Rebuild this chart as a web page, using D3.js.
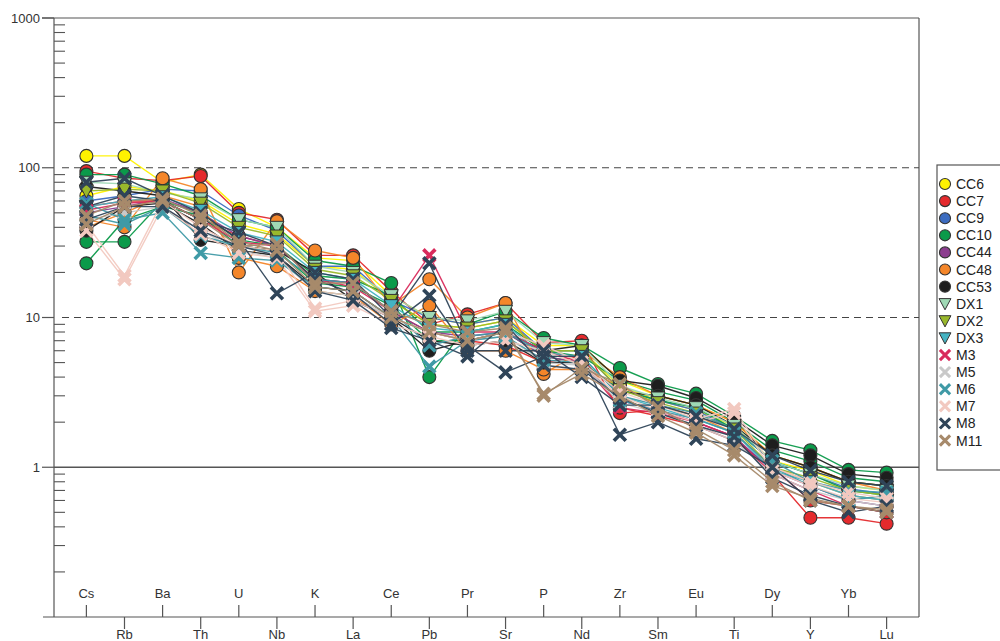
<!DOCTYPE html>
<html>
<head>
<meta charset="utf-8">
<script src="https://cdn.jsdelivr.net/npm/d3@7"></script>
<style>
  body { margin: 0; background: #fff; }
  svg { display: block; font-family: "Liberation Sans", Arial, sans-serif; }
</style>
</head>
<body>
<div></div>
<script>
'use strict';

// Elements along the x axis
var elements = ["Cs","Rb","Ba","Th","U","Nb","K","La","Ce","Pb","Pr","Sr","P","Nd","Zr","Sm","Eu","Ti","Dy","Y","Yb","Lu"];
var yTicks = [1000, 100, 10, 1];

// Legend groups
var groups = ["CC6","CC7","CC9","CC10","CC44","CC48","CC53","DX1","DX2","DX3","M3","M5","M6","M7","M8","M11"];
var groupColors = ["#fff200","#e42a2d","#3c6cc0","#0b9a4a","#8c3d8f","#f4862a","#1e1e1e","#9fd9b5","#99b82c","#44b3c2","#d92b5c","#c9c9c9","#3f9aa6","#f2c9c0","#2f4458","#a78a6b"];
var groupShapes = ["circle","circle","circle","circle","circle","circle","circle","tri","tri","tri","x","x","x","x","x","x"];

// Samples (normalised values)
var cc6a  = [120,120,80,90,53,40,25,24,14,10,9,10,6.5,6.5,3.8,3.0,2.6,2.0,1.2,1.0,0.8,0.75];
var cc6b  = [65,75,70,60,42,36,22,21,13,9,8.5,9.5,6,6,3.5,2.8,2.4,1.9,1.1,0.95,0.75,0.7];
var cc7a  = [95,85,82,88,50,45,26,26,15,9,10.5,12.5,6.8,7.0,2.3,2.4,2.0,1.6,0.9,0.46,0.46,0.42];
var cc7b  = [55,60,60,45,35,30,18,17,11,8,7,6.5,5,5.5,2.5,2.2,1.9,1.5,1.0,0.6,0.55,0.5];
var cc9a  = [60,65,72,70,48,38,22,22,13,10,9,10,6,6,3.3,2.8,2.4,1.8,1.1,0.9,0.72,0.66];
var cc10a = [90,90,78,65,45,40,24,22,17,4.0,9,11,7.3,6.5,4.6,3.6,3.1,2.2,1.5,1.3,0.96,0.92];
var cc10b = [32,32,60,50,33,30,19,18,14,8,8,9,6,5.5,3.8,3.2,2.8,2.0,1.3,1.1,0.85,0.8];
var cc10c = [23,45,55,48,30,28,17,16,12,7,7,8,5.5,5,3.3,2.8,2.5,1.8,1.1,0.9,0.7,0.65];
var cc44a = [50,55,62,50,35,30,18,17,11,8,7.5,8,5.5,5,2.8,2.4,2.0,1.6,0.95,0.75,0.6,0.55];
var cc48a = [45,40,85,72,20,44,28,25,12,18,10,12.5,4.2,6.0,4.0,3.0,2.6,2.0,1.2,1.0,0.8,0.7];
var cc48b = [40,50,65,55,25,22,15,14,9,12,6,6,4.5,4.5,3.5,2.6,2.2,1.7,1.0,0.8,0.65,0.6];
var cc53a = [75,70,65,33,30,28,20,13,10,6,7,8,6,6.5,3.8,3.5,2.9,2.1,1.4,1.2,0.9,0.85];
var cc53b = [38,55,58,42,28,26,16,15,10,7,6.5,7,5,5,3.2,3.0,2.6,1.9,1.2,1.0,0.8,0.75];
var dx1a  = [80,78,68,62,45,40,22,20,14,10,9.5,11,6.8,6.5,3.5,2.9,2.5,1.9,1.1,0.9,0.75,0.7];
var dx2a  = [70,72,70,58,40,35,21,19,13,9,8.5,9.5,6,6,3.3,2.7,2.3,1.8,1.0,0.85,0.7,0.65];
var dx3a  = [55,60,64,52,37,32,20,18,12,8.5,8,9,5.5,5.5,3.0,2.5,2.1,1.7,0.95,0.8,0.65,0.6];
var m3a   = [52,58,60,45,32,30,18,16,11,26,8,8,6,5,2.5,2.3,2.0,1.6,0.9,0.7,0.55,0.5];
var m5a   = [45,50,55,38,28,25,15,14,10,8,7,7.5,5,4.8,2.7,2.3,1.9,1.5,0.9,0.7,0.6,0.55];
var m6a   = [58,45,50,27,25,24,16,15,10,4.7,7,7.5,5.2,5,2.8,2.4,2.1,1.7,1.0,0.75,0.6,0.65];
var m6b   = [48,42,55,35,30,27,18,17,11,6.5,7.5,8,5.8,5.5,3.0,2.6,2.3,1.8,1.1,0.8,0.7,0.68];
var m7a   = [42,19,60,40,30,28,11.5,13,10,8,7,8,6.5,5,3.2,2.6,2.1,2.45,1.0,0.8,0.68,0.62];
var m7b   = [38,18,55,36,27,25,11,12,9,7.5,6.5,7,6,4.8,3.0,2.4,2.0,2.3,0.95,0.75,0.62,0.58];
var m8a   = [80,85,65,50,33,14.5,20,18,10,23,6.5,4.3,5.5,5.5,1.65,2.0,1.55,1.4,1.0,0.6,0.5,0.55];
var m8b   = [55,65,60,45,37,30,18,14.5,9,14,6,6,6,4,2.6,2.6,2.2,1.8,1.2,0.95,0.8,0.75];
var m8c   = [45,55,55,38,30,26,15,13,8.5,7,5.5,9,4.8,4.5,2.9,2.3,1.9,1.6,0.85,0.65,0.55,0.5];
var m11a  = [42,55,60,45,30,31,17,17,11,9,8,8.5,3.0,4.6,3.6,2.5,1.8,1.3,0.8,0.6,0.55,0.5];
var m11b  = [48,60,62,48,32,28,16,15,10,8,7,8,3.1,4.2,3.0,2.2,1.7,1.2,0.75,0.62,0.55,0.52];

var samples = [
  ["CC6", cc6a], ["CC6", cc6b],
  ["CC7", cc7a], ["CC7", cc7b],
  ["CC9", cc9a],
  ["CC10", cc10a], ["CC10", cc10b], ["CC10", cc10c],
  ["CC44", cc44a],
  ["CC48", cc48a], ["CC48", cc48b],
  ["CC53", cc53a], ["CC53", cc53b],
  ["DX1", dx1a], ["DX2", dx2a], ["DX3", dx3a],
  ["M3", m3a], ["M5", m5a],
  ["M6", m6a], ["M6", m6b],
  ["M7", m7a], ["M7", m7b],
  ["M8", m8a], ["M8", m8b], ["M8", m8c],
  ["M11", m11a], ["M11", m11b]
];

var svgWidth = 1000;
var svgHeight = 641;
var plot = {left: 54, right: 919, top: 18, bottom: 617};

var xScale = d3.scalePoint()
    .domain(elements)
    .range([plot.left, plot.right])
    .padding(0.85);

var yScale = d3.scaleLog()
    .domain([0.1, 1000])
    .range([plot.bottom, plot.top]);

var color = d3.scaleOrdinal().domain(groups).range(groupColors);
var shape = d3.scaleOrdinal().domain(groups).range(groupShapes);

var svg = d3.select("body").select("div")
  .append("svg")
    .attr("width", svgWidth)
    .attr("height", svgHeight);

// Frame and reference lines
var axisColor = "#555";
svg.append("line")
    .attr("x1", plot.left - 12).attr("x2", plot.right)
    .attr("y1", yScale(1000)).attr("y2", yScale(1000))
    .attr("stroke", axisColor).attr("stroke-width", 1.2);
svg.append("line")
    .attr("x1", plot.right).attr("x2", plot.right)
    .attr("y1", plot.top).attr("y2", plot.bottom)
    .attr("stroke", axisColor).attr("stroke-width", 1.2);
svg.append("line")
    .attr("x1", plot.left).attr("x2", plot.left)
    .attr("y1", plot.top).attr("y2", plot.bottom)
    .attr("stroke", axisColor).attr("stroke-width", 1.2);
svg.append("line")
    .attr("x1", plot.left - 11).attr("x2", plot.right)
    .attr("y1", plot.bottom).attr("y2", plot.bottom)
    .attr("stroke", axisColor).attr("stroke-width", 1.2);

[100, 10].forEach(function(v) {
  svg.append("line")
      .attr("x1", plot.left + 8).attr("x2", plot.right)
      .attr("y1", yScale(v)).attr("y2", yScale(v))
      .attr("stroke", "#444").attr("stroke-width", 1.1)
      .attr("stroke-dasharray", "7,5");
});
svg.append("line")
    .attr("x1", plot.left).attr("x2", plot.right)
    .attr("y1", yScale(1)).attr("y2", yScale(1))
    .attr("stroke", "#555").attr("stroke-width", 1.4);

// Y axis: major ticks outward with labels, minor ticks inward
var yAxis = svg.append("g");
yTicks.forEach(function(v) {
  yAxis.append("line")
      .attr("x1", plot.left - 12).attr("x2", plot.left)
      .attr("y1", yScale(v)).attr("y2", yScale(v))
      .attr("stroke", axisColor).attr("stroke-width", 1.2);
  yAxis.append("text")
      .attr("x", plot.left - 14)
      .attr("y", yScale(v))
      .attr("dy", "0.35em")
      .attr("text-anchor", "end")
      .attr("font-size", 13)
      .attr("fill", "#333")
      .text(v);
});
var minor = [];
[0.1, 1, 10, 100].forEach(function(base) {
  for (var k = 2; k <= 9; k++) minor.push(base * k);
});
yAxis.selectAll("line.minor")
  .data(minor)
  .enter().append("line")
    .attr("class", "minor")
    .attr("x1", plot.left).attr("x2", plot.left + 11)
    .attr("y1", function(d) { return yScale(d); })
    .attr("y2", function(d) { return yScale(d); })
    .attr("stroke", axisColor).attr("stroke-width", 1.1);

// X axis: alternating ticks up / down
var xAxis = svg.append("g");
elements.forEach(function(el, i) {
  var up = i % 2 === 0;
  var x = xScale(el);
  xAxis.append("line")
      .attr("x1", x).attr("x2", x)
      .attr("y1", plot.bottom).attr("y2", up ? plot.bottom - 12 : plot.bottom + 12)
      .attr("stroke", axisColor).attr("stroke-width", 1.2);
  xAxis.append("text")
      .attr("x", x)
      .attr("y", up ? plot.bottom - 19 : plot.bottom + 22)
      .attr("text-anchor", "middle")
      .attr("font-size", 13)
      .attr("fill", "#333")
      .text(el);
});

// Lines
var line = d3.line()
    .x(function(d, i) { return xScale(elements[i]); })
    .y(function(d) { return yScale(d); });

svg.append("g").selectAll("path")
  .data(samples)
  .enter().append("path")
    .attr("fill", "none")
    .attr("stroke", function(d) { return color(d[0]); })
    .attr("stroke-width", 1.4)
    .attr("stroke-opacity", 0.95)
    .attr("d", function(d) { return line(d[1]); });

// Marker drawing
function drawMarker(g, type, fill, s) {
  if (type === "circle") {
    g.append("circle")
        .attr("r", 6.5 * s)
        .attr("fill", fill)
        .attr("stroke", "#333")
        .attr("stroke-width", 1.1);
  } else if (type === "tri") {
    var w = 7 * s, h = 6 * s;
    g.append("path")
        .attr("d", "M" + (-w) + "," + (-h) + "L" + w + "," + (-h) + "L0," + (h + 1) + "Z")
        .attr("fill", fill)
        .attr("stroke", "#333")
        .attr("stroke-width", 1);
  } else {
    var a = 6 * s;
    g.append("path")
        .attr("d", "M" + (-a) + "," + (-a) + "L" + a + "," + a + "M" + (-a) + "," + a + "L" + a + "," + (-a))
        .attr("stroke", fill)
        .attr("stroke-width", 3.6 * s)
        .attr("fill", "none");
  }
}

var points = [];
samples.forEach(function(s) {
  s[1].forEach(function(v, i) {
    points.push({group: s[0], el: elements[i], value: v});
  });
});
// circles first, then triangles, then crosses
points.sort(function(a, b) { return groups.indexOf(a.group) - groups.indexOf(b.group); });

var markers = svg.append("g");
points.forEach(function(p) {
  var g = markers.append("g")
      .attr("transform", "translate(" + xScale(p.el) + "," + yScale(p.value) + ")");
  drawMarker(g, shape(p.group), color(p.group), 1);
});

// Legend
var legend = svg.append("g");
legend.append("rect")
    .attr("x", 937).attr("y", 165)
    .attr("width", 80).attr("height", 305)
    .attr("fill", "#fff")
    .attr("stroke", "#555").attr("stroke-width", 1.2);

groups.forEach(function(gname, i) {
  var y = 184 + i * 17.1;
  var g = legend.append("g").attr("transform", "translate(945," + y + ")");
  drawMarker(g, shape(gname), color(gname), 0.85);
  legend.append("text")
      .attr("x", 956)
      .attr("y", y)
      .attr("dy", "0.36em")
      .attr("font-size", 14)
      .attr("fill", "#222")
      .text(gname);
});
</script>
</body>
</html>
